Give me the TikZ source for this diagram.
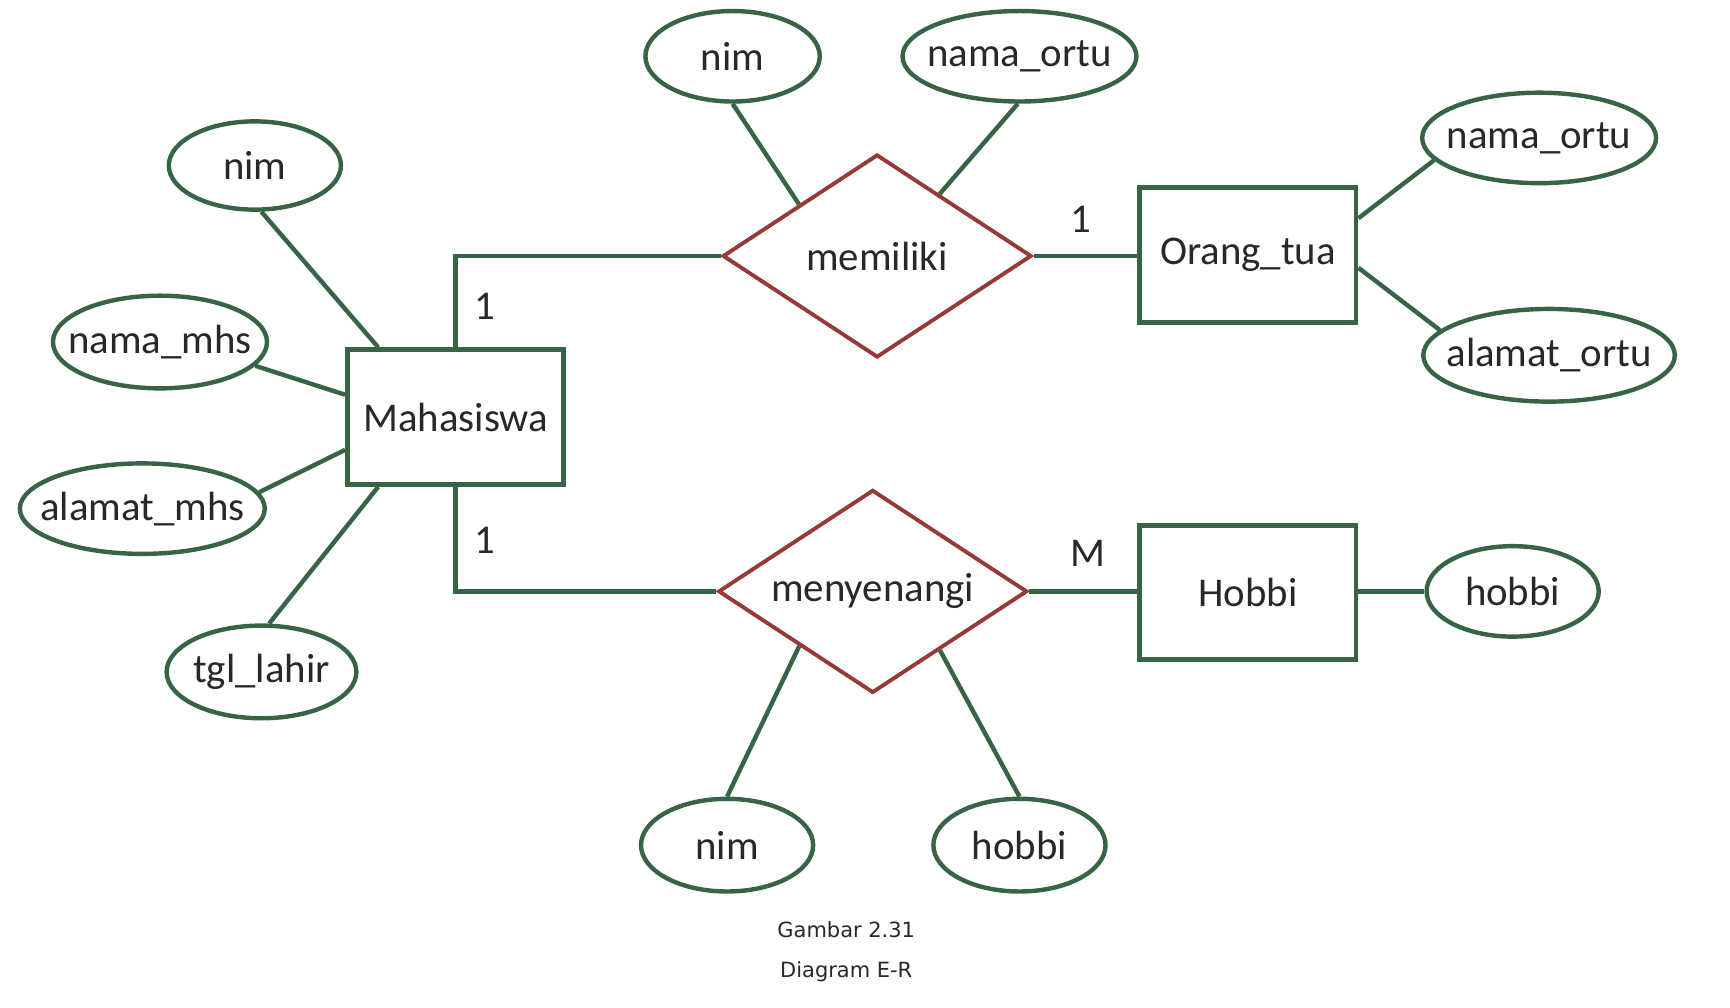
\documentclass[tikz,border=0pt]{standalone}
\usepackage{fontspec}
\setmainfont{Carlito}
\newfontfamily\capfont{DejaVu Sans}
\usetikzlibrary{shapes.geometric,calc}
\definecolor{ergreen}{RGB}{56,100,70}
\definecolor{erred}{RGB}{150,58,55}
\definecolor{ertext}{RGB}{40,40,40}
\newcommand{\zw}[1]{\makebox[0pt]{#1}}
\tikzset{
  lbl/.style={text=ertext,font=\fontsize{37}{42}\selectfont},
  entity/.style={lbl,draw=ergreen,line width=4.5pt,rectangle,minimum width=196pt,minimum height=122pt,inner sep=0pt},
  attr/.style={lbl,draw=ergreen,line width=4pt,ellipse,inner sep=0pt},
  rel/.style={lbl,draw=erred,line width=3.5pt,diamond,inner sep=0pt,minimum width=280pt,minimum height=184pt},
  conn/.style={draw=ergreen,line width=4pt},
  card/.style={lbl,inner sep=0pt},
  captxt/.style={text=ertext,font=\capfont\fontsize{19}{23}\selectfont,inner sep=0pt}
}
\begin{document}
\begin{tikzpicture}[x=1pt,y=-1pt]
\useasboundingbox[fill=white] (0,0) rectangle (1568,913);
% entities
\node[entity] (maha) at (413,378) {Mahasiswa};
\node[entity] (ortu) at (1131,231) {Orang\_tua};
\node[entity] (hob) at (1131,537) {Hobbi};
% relationships
\node[rel] (mem) at (795,232) {\zw{memiliki}};
\node[rel] (meny) at (791,536) {\zw{menyenangi}};
% attributes
\node[attr,minimum width=156pt,minimum height=80pt] (nimA) at (231,150) {\zw{nim}};
\node[attr,minimum width=194pt,minimum height=84pt] (namamhs) at (145,310) {\zw{nama\_mhs}};
\node[attr,minimum width=222pt,minimum height=82pt] (alamatmhs) at (129,461) {\zw{alamat\_mhs}};
\node[attr,minimum width=172pt,minimum height=84pt] (tgl) at (237,609) {\zw{tgl\_lahir}};
\node[attr,minimum width=158pt,minimum height=82pt] (nimB) at (664,51) {\zw{nim}};
\node[attr,minimum width=212pt,minimum height=82pt] (namaortuA) at (924,51) {\zw{nama\_ortu}};
\node[attr,minimum width=212pt,minimum height=82pt] (namaortuB) at (1395,125) {\zw{nama\_ortu}};
\node[attr,minimum width=228pt,minimum height=84pt] (alamatortu) at (1404,322) {\zw{alamat\_ortu}};
\node[attr,minimum width=156pt,minimum height=82pt] (hobbiR) at (1371,536) {\zw{hobbi}};
\node[attr,minimum width=156pt,minimum height=84pt] (nimC) at (659,766) {\zw{nim}};
\node[attr,minimum width=156pt,minimum height=84pt] (hobbiC) at (924,766) {\zw{hobbi}};
% connectors: attributes of Mahasiswa
\draw[conn] (nimA.-82) -- ($(maha.north west)+(30,0)$);
\draw[conn] (namamhs.-14) -- ($(maha.north west)+(0,43)$);
\draw[conn] (alamatmhs.8) -- ($(maha.north west)+(0,93)$);
\draw[conn] (tgl.81) -- ($(maha.south west)+(30,0)$);
% relationship lines
\draw[conn] (maha.north) |- (mem.west);
\draw[conn] (maha.south) |- (meny.west);
\draw[conn] (mem.east) -- (ortu.west |- mem.east);
\draw[conn] (meny.east) -- (hob.west |- meny.east);
% attributes of relationships
\draw[conn] (nimB.south) -- ($(mem.west)!0.5!(mem.north)$);
\draw[conn] (namaortuA.-92) -- ($(mem.north)!0.4!(mem.east)$);
\draw[conn] ($(meny.west)!0.53!(meny.south)$) -- (nimC.north);
\draw[conn] ($(meny.south)!0.43!(meny.east)$) -- (hobbiC.north);
% attributes of Orang_tua and Hobbi
\draw[conn] ($(ortu.north east)+(0,30)$) -- (namaortuB.-168);
\draw[conn] ($(ortu.north east)+(0,75)$) -- (alamatortu.167);
\draw[conn] (hob.east |- hobbiR.west) -- (hobbiR.west);
% cardinalities
\node[card] (c1) at (439,278) {1};
\node[card] (c2) at (439,490) {1};
\node[card] (c3) at (980,199) {1};
\node[card] (c4) at (986,502) {M};
% caption
\node[captxt] (cap1) at (767,843) {Gambar 2.31};
\node[captxt] (cap2) at (767,881) {Diagram E-R};
\end{tikzpicture}
\end{document}
